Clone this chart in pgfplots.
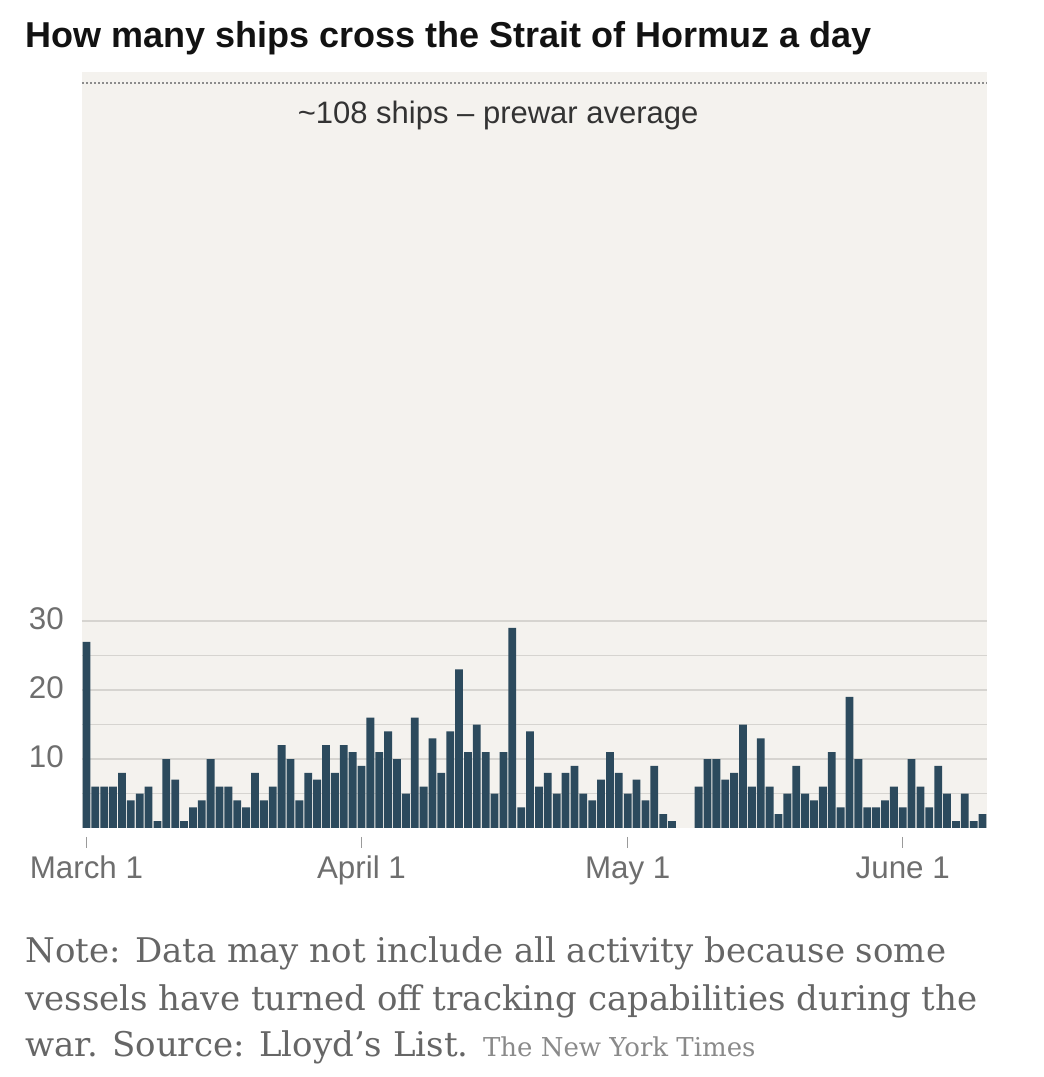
\documentclass[border=0pt]{standalone}
\usepackage{fontspec}
\setmainfont{Liberation Sans}
\newfontfamily\notefont{DejaVu Serif}
\usepackage{pgfplots}
\pgfplotsset{compat=1.18}
\definecolor{barc}{HTML}{2C4A5D}
\definecolor{bgb}{HTML}{F4F2EE}
\definecolor{gridc}{HTML}{D6D4D0}
\definecolor{lab}{HTML}{6E6E6E}
\definecolor{notec}{HTML}{666666}
\definecolor{nyt}{HTML}{8A8A8A}
\definecolor{dotc}{HTML}{8C8C8C}
\definecolor{titlec}{HTML}{121212}

\pgfplotstableread{
day ships
0 27
1 6
2 6
3 6
4 8
5 4
6 5
7 6
8 1
9 10
10 7
11 1
12 3
13 4
14 10
15 6
16 6
17 4
18 3
19 8
20 4
21 6
22 12
23 10
24 4
25 8
26 7
27 12
28 8
29 12
30 11
31 9
32 16
33 11
34 14
35 10
36 5
37 16
38 6
39 13
40 8
41 14
42 23
43 11
44 15
45 11
46 5
47 11
48 29
49 3
50 14
51 6
52 8
53 5
54 8
55 9
56 5
57 4
58 7
59 11
60 8
61 5
62 7
63 4
64 9
65 2
66 1
69 6
70 10
71 10
72 7
73 8
74 15
75 6
76 13
77 6
78 2
79 5
80 9
81 5
82 4
83 6
84 11
85 3
86 19
87 10
88 3
89 3
90 4
91 6
92 3
93 10
94 6
95 3
96 9
97 5
98 1
99 5
100 1
101 2
}\shiptable

\begin{document}
\begin{tikzpicture}
\useasboundingbox (0,0) rectangle (783pt,807.75pt);
\node[anchor=base west, inner sep=0pt, font=\fontsize{27}{32}\selectfont\bfseries, text=titlec] at (18.75pt,771.75pt) {How many ships cross the Strait of Hormuz a day};
\begin{axis}[
  at={(61.5pt,186.75pt)}, anchor=south west,
  width=678.75pt, height=567pt, scale only axis,
  xmin=-0.5, xmax=101.5, ymin=0, ymax=109.6,
  axis line style={draw=none},
  axis background/.style={fill=bgb},
  ytick={5,10,15,20,25,30}, yticklabels={,10,,20,,30},
  ymajorgrids, grid style={gridc, line width=1.1pt},
  major tick length=0pt,
  xtick={0,31,61,92}, xticklabels={March 1,April 1,May 1,June 1},
  tick label style={font=\fontsize{23.5}{28}\selectfont, text=lab},
  yticklabel style={anchor=east, inner sep=0pt, xshift=-13.5pt, yshift=2pt},
  xticklabel style={anchor=base, inner sep=0pt, yshift=-38.25pt},
  clip=false,
]
\addplot[ybar, bar width=0.88, fill=barc, draw=none] table[x=day, y=ships] {\shiptable};
\addplot[dotc, line width=1.6pt, dash pattern=on 1.4pt off 1.6pt, forget plot] coordinates {(-0.5,108) (101.5,108)};
\draw[lab!70, line width=1pt] ([yshift=-6.75pt]axis cs:0,0) -- ([yshift=-15pt]axis cs:0,0);
\draw[lab!70, line width=1pt] ([yshift=-6.75pt]axis cs:31,0) -- ([yshift=-15pt]axis cs:31,0);
\draw[lab!70, line width=1pt] ([yshift=-6.75pt]axis cs:61,0) -- ([yshift=-15pt]axis cs:61,0);
\draw[lab!70, line width=1pt] ([yshift=-6.75pt]axis cs:92,0) -- ([yshift=-15pt]axis cs:92,0);
\node[anchor=base, inner sep=0pt, font=\fontsize{23.25}{28}\selectfont, text=black!80] at (axis cs:46.4,102.1) {\textasciitilde108 ships -- prewar average};
\end{axis}
\node[anchor=base west, inner sep=0pt, font=\notefont\fontsize{25.5}{30}\selectfont, text=notec] at (18.75pt,85.5pt) {Note: Data may not include all activity because some};
\node[anchor=base west, inner sep=0pt, font=\notefont\fontsize{25.5}{30}\selectfont, text=notec] at (18.75pt,49.5pt) {vessels have turned off tracking capabilities during the};
\node[anchor=base west, inner sep=0pt, font=\notefont\fontsize{25.5}{30}\selectfont, text=notec] at (18.75pt,15pt) {war. Source: Lloyd’s List. {\fontsize{19.5}{22}\selectfont\color{nyt}The New York Times}};
\end{tikzpicture}
\end{document}
